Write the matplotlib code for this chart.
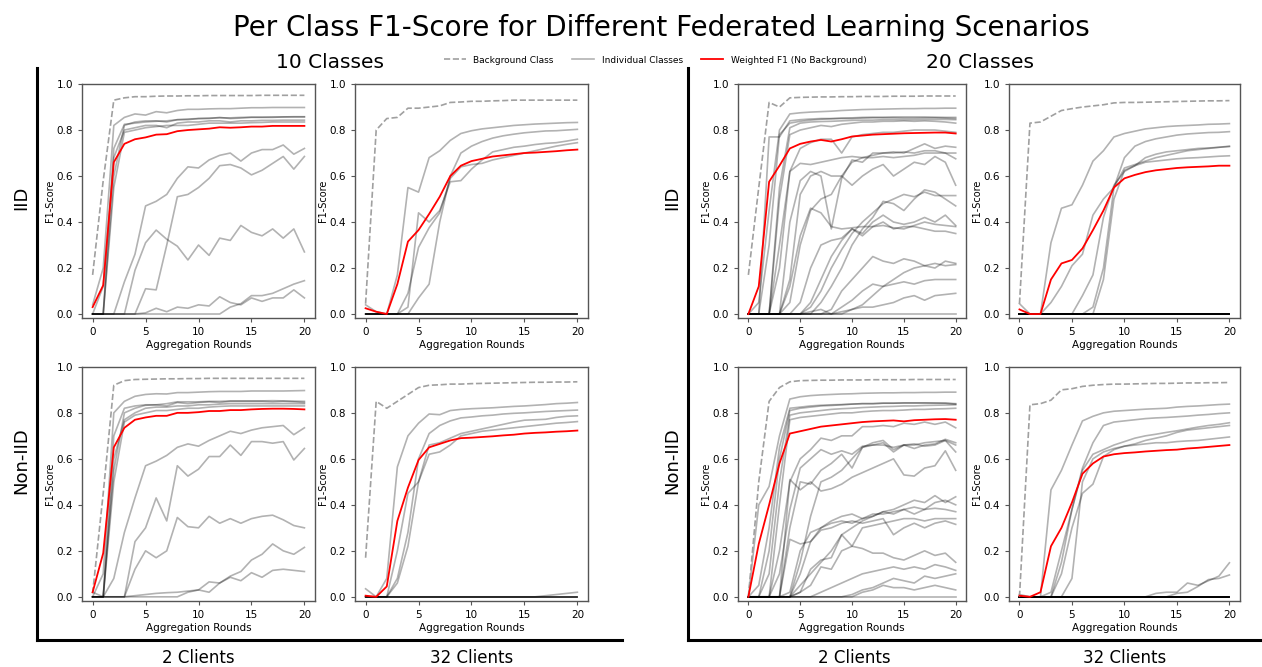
import numpy as np
import matplotlib.pyplot as plt
from matplotlib.lines import Line2D

rounds = list(range(21))
Z = [0.0] * 21

# ---------------- IID, 10 classes, 2 clients ----------------
iid10_c2_bg = [0.17, 0.58, 0.93, 0.94, 0.945, 0.945, 0.947, 0.948, 0.948, 0.949, 0.949,
               0.95, 0.95, 0.95, 0.95, 0.95, 0.951, 0.951, 0.951, 0.951, 0.951]
iid10_c2_f1 = [0.03, 0.125, 0.66, 0.74, 0.76, 0.768, 0.78, 0.782, 0.795, 0.80, 0.803,
               0.806, 0.812, 0.81, 0.812, 0.815, 0.815, 0.818, 0.818, 0.818, 0.818]
iid10_c2_cls = [
    [0.04, 0.2, 0.82, 0.855, 0.87, 0.865, 0.88, 0.875, 0.885, 0.89, 0.89, 0.892, 0.893, 0.893, 0.895, 0.897, 0.897, 0.898, 0.898, 0.898, 0.898],
    [0.0, 0.0, 0.72, 0.825, 0.83, 0.835, 0.838, 0.84, 0.845, 0.848, 0.85, 0.852, 0.853, 0.853, 0.855, 0.856, 0.856, 0.857, 0.857, 0.858, 0.858],
    [0.0, 0.0, 0.6, 0.82, 0.835, 0.84, 0.84, 0.835, 0.845, 0.845, 0.85, 0.85, 0.855, 0.85, 0.852, 0.855, 0.855, 0.855, 0.857, 0.857, 0.857],
    [0.0, 0.12, 0.68, 0.80, 0.81, 0.82, 0.82, 0.81, 0.83, 0.835, 0.835, 0.84, 0.84, 0.835, 0.84, 0.84, 0.842, 0.842, 0.843, 0.843, 0.843],
    [0.0, 0.0, 0.55, 0.79, 0.80, 0.81, 0.815, 0.82, 0.82, 0.82, 0.825, 0.83, 0.83, 0.83, 0.83, 0.832, 0.833, 0.835, 0.835, 0.835, 0.835],
    [0.0, 0.0, 0.0, 0.14, 0.26, 0.47, 0.49, 0.52, 0.59, 0.64, 0.635, 0.67, 0.69, 0.70, 0.665, 0.70, 0.715, 0.715, 0.735, 0.695, 0.72],
    [0.0, 0.0, 0.0, 0.0, 0.0, 0.11, 0.105, 0.30, 0.51, 0.52, 0.55, 0.59, 0.645, 0.65, 0.635, 0.605, 0.625, 0.655, 0.685, 0.63, 0.685],
    [0.0, 0.0, 0.0, 0.0, 0.19, 0.31, 0.365, 0.325, 0.295, 0.235, 0.30, 0.255, 0.33, 0.32, 0.385, 0.355, 0.34, 0.37, 0.33, 0.37, 0.27],
    [0.0, 0.0, 0.0, 0.0, 0.0, 0.0, 0.0, 0.0, 0.0, 0.0, 0.0, 0.0, 0.0, 0.03, 0.045, 0.08, 0.08, 0.09, 0.11, 0.13, 0.145],
    [0.0, 0.0, 0.0, 0.0, 0.0, 0.005, 0.025, 0.01, 0.03, 0.025, 0.04, 0.035, 0.075, 0.05, 0.04, 0.07, 0.055, 0.07, 0.07, 0.105, 0.07],
]

# ---------------- IID, 10 classes, 32 clients ----------------
iid10_c32_bg = [0.045, 0.80, 0.85, 0.855, 0.895, 0.895, 0.90, 0.905, 0.92, 0.922, 0.925,
                0.925, 0.927, 0.928, 0.93, 0.93, 0.93, 0.93, 0.93, 0.93, 0.93]
iid10_c32_f1 = [0.025, 0.01, 0.0, 0.13, 0.315, 0.365, 0.435, 0.51, 0.60, 0.645, 0.665,
                0.675, 0.685, 0.69, 0.695, 0.70, 0.702, 0.705, 0.708, 0.712, 0.715]
iid10_c32_cls = [
    [0.04, 0.01, 0.0, 0.17, 0.55, 0.53, 0.68, 0.71, 0.755, 0.785, 0.797, 0.805, 0.81, 0.815, 0.82, 0.823, 0.826, 0.828, 0.83, 0.832, 0.833],
    [0.0, 0.0, 0.0, 0.0, 0.0, 0.07, 0.13, 0.40, 0.60, 0.70, 0.73, 0.75, 0.765, 0.775, 0.782, 0.788, 0.792, 0.796, 0.797, 0.80, 0.803],
    [0.0, 0.0, 0.0, 0.0, 0.03, 0.44, 0.40, 0.45, 0.575, 0.58, 0.63, 0.67, 0.705, 0.715, 0.725, 0.73, 0.737, 0.742, 0.745, 0.752, 0.76],
    [0.0, 0.0, 0.0, 0.0, 0.09, 0.29, 0.375, 0.44, 0.59, 0.64, 0.65, 0.655, 0.67, 0.68, 0.69, 0.70, 0.71, 0.72, 0.73, 0.738, 0.745],
    Z, Z, Z, Z, Z, Z,
]

# ---------------- IID, 20 classes, 2 clients ----------------
iid20_c2_bg = [0.17, 0.55, 0.92, 0.90, 0.94, 0.942, 0.943, 0.944, 0.944, 0.945, 0.945,
               0.946, 0.946, 0.946, 0.947, 0.947, 0.947, 0.948, 0.948, 0.948, 0.948]
iid20_c2_f1 = [0.0, 0.12, 0.575, 0.645, 0.72, 0.74, 0.75, 0.757, 0.75, 0.76, 0.772,
               0.776, 0.78, 0.782, 0.784, 0.786, 0.787, 0.788, 0.789, 0.789, 0.785]
iid20_c2_cls = [
    [0.0, 0.05, 0.45, 0.80, 0.87, 0.875, 0.878, 0.88, 0.882, 0.885, 0.887, 0.889, 0.89, 0.891, 0.892, 0.893, 0.893, 0.894, 0.894, 0.895, 0.895],
    [0.0, 0.0, 0.77, 0.77, 0.84, 0.845, 0.848, 0.85, 0.85, 0.852, 0.853, 0.855, 0.856, 0.856, 0.857, 0.857, 0.857, 0.857, 0.856, 0.855, 0.855],
    [0.0, 0.0, 0.3, 0.78, 0.83, 0.838, 0.843, 0.847, 0.849, 0.85, 0.85, 0.852, 0.853, 0.853, 0.853, 0.852, 0.852, 0.853, 0.853, 0.852, 0.85],
    [0.0, 0.0, 0.0, 0.55, 0.81, 0.83, 0.835, 0.837, 0.838, 0.84, 0.842, 0.843, 0.843, 0.845, 0.845, 0.845, 0.845, 0.846, 0.846, 0.846, 0.845],
    [0.0, 0.0, 0.0, 0.5, 0.78, 0.80, 0.81, 0.82, 0.815, 0.825, 0.83, 0.835, 0.835, 0.838, 0.838, 0.84, 0.838, 0.84, 0.838, 0.835, 0.83],
    [0.0, 0.0, 0.0, 0.3, 0.62, 0.72, 0.745, 0.76, 0.76, 0.70, 0.77, 0.78, 0.785, 0.79, 0.79, 0.795, 0.80, 0.80, 0.80, 0.795, 0.79],
    [0.0, 0.0, 0.0, 0.2, 0.62, 0.655, 0.65, 0.66, 0.67, 0.68, 0.685, 0.68, 0.68, 0.685, 0.68, 0.685, 0.69, 0.70, 0.70, 0.70, 0.70],
    [0.0, 0.0, 0.0, 0.0, 0.40, 0.58, 0.62, 0.60, 0.37, 0.59, 0.67, 0.66, 0.70, 0.70, 0.705, 0.70, 0.72, 0.74, 0.72, 0.73, 0.725],
    [0.0, 0.0, 0.0, 0.0, 0.15, 0.52, 0.60, 0.62, 0.60, 0.60, 0.56, 0.60, 0.63, 0.65, 0.60, 0.63, 0.66, 0.65, 0.685, 0.66, 0.56],
    [0.0, 0.0, 0.0, 0.0, 0.05, 0.30, 0.45, 0.50, 0.52, 0.60, 0.66, 0.68, 0.69, 0.70, 0.70, 0.705, 0.70, 0.71, 0.71, 0.70, 0.675],
    [0.0, 0.0, 0.0, 0.0, 0.0, 0.0, 0.03, 0.10, 0.20, 0.28, 0.35, 0.40, 0.44, 0.48, 0.50, 0.52, 0.51, 0.53, 0.515, 0.515, 0.515],
    [0.0, 0.0, 0.0, 0.0, 0.0, 0.0, 0.0, 0.05, 0.12, 0.20, 0.30, 0.37, 0.42, 0.49, 0.48, 0.45, 0.50, 0.54, 0.53, 0.50, 0.47],
    [0.0, 0.0, 0.0, 0.0, 0.12, 0.34, 0.46, 0.44, 0.38, 0.37, 0.375, 0.38, 0.38, 0.385, 0.375, 0.37, 0.385, 0.40, 0.39, 0.385, 0.38],
    [0.0, 0.0, 0.0, 0.0, 0.0, 0.05, 0.20, 0.30, 0.32, 0.33, 0.37, 0.35, 0.40, 0.43, 0.40, 0.39, 0.40, 0.42, 0.40, 0.43, 0.385],
    [0.0, 0.0, 0.0, 0.0, 0.0, 0.0, 0.05, 0.15, 0.25, 0.32, 0.37, 0.34, 0.38, 0.40, 0.37, 0.38, 0.38, 0.37, 0.36, 0.36, 0.35],
    [0.0, 0.0, 0.0, 0.0, 0.0, 0.0, 0.0, 0.0, 0.02, 0.10, 0.15, 0.20, 0.25, 0.23, 0.22, 0.24, 0.23, 0.21, 0.20, 0.23, 0.22],
    [0.0, 0.0, 0.0, 0.0, 0.0, 0.0, 0.0, 0.0, 0.0, 0.01, 0.02, 0.04, 0.08, 0.12, 0.15, 0.18, 0.20, 0.21, 0.22, 0.21, 0.215],
    [0.0, 0.0, 0.0, 0.0, 0.0, 0.0, 0.01, 0.02, 0.0, 0.03, 0.06, 0.10, 0.13, 0.12, 0.13, 0.14, 0.13, 0.145, 0.15, 0.15, 0.15],
    [0.0, 0.0, 0.0, 0.0, 0.0, 0.0, 0.0, 0.0, 0.0, 0.0, 0.02, 0.03, 0.03, 0.04, 0.05, 0.07, 0.08, 0.06, 0.08, 0.085, 0.09],
    Z,
]

# ---------------- IID, 20 classes, 32 clients ----------------
iid20_c32_bg = [0.045, 0.83, 0.835, 0.86, 0.885, 0.893, 0.90, 0.905, 0.91, 0.918, 0.92,
                0.92, 0.921, 0.922, 0.923, 0.924, 0.925, 0.926, 0.927, 0.927, 0.928]
iid20_c32_f1 = [0.02, 0.0, 0.0, 0.15, 0.22, 0.235, 0.285, 0.365, 0.45, 0.55, 0.59,
                0.605, 0.617, 0.625, 0.63, 0.635, 0.638, 0.64, 0.642, 0.645, 0.645]
iid20_c32_cls = [
    [0.045, 0.0, 0.0, 0.31, 0.46, 0.475, 0.56, 0.665, 0.71, 0.77, 0.785, 0.795, 0.805, 0.81, 0.815, 0.818, 0.82, 0.822, 0.825, 0.826, 0.828],
    [0.0, 0.0, 0.0, 0.05, 0.12, 0.21, 0.26, 0.43, 0.50, 0.55, 0.68, 0.73, 0.75, 0.762, 0.77, 0.778, 0.783, 0.786, 0.789, 0.79, 0.793],
    [0.0, 0.0, 0.0, 0.0, 0.0, 0.0, 0.0, 0.03, 0.20, 0.55, 0.635, 0.65, 0.665, 0.68, 0.69, 0.70, 0.71, 0.715, 0.72, 0.725, 0.73],
    [0.0, 0.0, 0.0, 0.0, 0.0, 0.0, 0.08, 0.17, 0.42, 0.56, 0.62, 0.645, 0.68, 0.695, 0.705, 0.71, 0.715, 0.72, 0.722, 0.725, 0.728],
    [0.0, 0.0, 0.0, 0.0, 0.0, 0.0, 0.0, 0.0, 0.15, 0.50, 0.625, 0.645, 0.66, 0.665, 0.67, 0.675, 0.678, 0.68, 0.683, 0.686, 0.688],
] + [Z] * 15

# ---------------- Non-IID, 10 classes, 2 clients ----------------
niid10_c2_bg = [0.015, 0.45, 0.92, 0.94, 0.945, 0.946, 0.947, 0.948, 0.948, 0.949, 0.949,
                0.95, 0.95, 0.95, 0.95, 0.95, 0.95, 0.95, 0.95, 0.95, 0.95]
niid10_c2_f1 = [0.02, 0.19, 0.65, 0.735, 0.77, 0.78, 0.787, 0.787, 0.80, 0.80, 0.803,
                0.808, 0.808, 0.812, 0.812, 0.815, 0.817, 0.818, 0.818, 0.817, 0.815]
niid10_c2_cls = [
    [0.0, 0.1, 0.80, 0.85, 0.872, 0.88, 0.883, 0.882, 0.888, 0.888, 0.89, 0.892, 0.893, 0.893, 0.893, 0.895, 0.895, 0.895, 0.895, 0.896, 0.897],
    [0.0, 0.0, 0.70, 0.82, 0.83, 0.835, 0.835, 0.84, 0.848, 0.848, 0.848, 0.85, 0.85, 0.852, 0.852, 0.852, 0.852, 0.853, 0.852, 0.851, 0.85],
    [0.0, 0.0, 0.55, 0.80, 0.82, 0.833, 0.835, 0.83, 0.845, 0.84, 0.845, 0.848, 0.845, 0.85, 0.85, 0.85, 0.85, 0.848, 0.85, 0.848, 0.845],
    [0.0, 0.0, 0.6, 0.77, 0.80, 0.82, 0.825, 0.825, 0.83, 0.83, 0.835, 0.835, 0.838, 0.84, 0.84, 0.84, 0.84, 0.84, 0.84, 0.84, 0.84],
    [0.02, 0.0, 0.5, 0.76, 0.79, 0.80, 0.81, 0.81, 0.815, 0.82, 0.82, 0.825, 0.828, 0.83, 0.83, 0.83, 0.83, 0.83, 0.83, 0.83, 0.83],
    [0.0, 0.0, 0.08, 0.28, 0.43, 0.57, 0.59, 0.615, 0.65, 0.665, 0.655, 0.68, 0.70, 0.72, 0.71, 0.725, 0.735, 0.74, 0.745, 0.705, 0.735],
    [0.0, 0.0, 0.0, 0.0, 0.24, 0.30, 0.43, 0.33, 0.57, 0.525, 0.555, 0.61, 0.61, 0.66, 0.615, 0.675, 0.675, 0.668, 0.675, 0.595, 0.645],
    [0.0, 0.0, 0.0, 0.0, 0.12, 0.20, 0.17, 0.20, 0.345, 0.305, 0.30, 0.35, 0.32, 0.34, 0.32, 0.34, 0.35, 0.355, 0.335, 0.31, 0.30],
    [0.0, 0.0, 0.0, 0.0, 0.0, 0.0, 0.0, 0.0, 0.0, 0.02, 0.03, 0.02, 0.06, 0.09, 0.11, 0.16, 0.185, 0.23, 0.20, 0.185, 0.215],
    [0.0, 0.0, 0.0, 0.0, 0.005, 0.01, 0.015, 0.018, 0.02, 0.025, 0.03, 0.065, 0.06, 0.085, 0.07, 0.105, 0.085, 0.115, 0.12, 0.115, 0.11],
]

# ---------------- Non-IID, 10 classes, 32 clients ----------------
niid10_c32_bg = [0.17, 0.85, 0.82, 0.85, 0.88, 0.91, 0.92, 0.922, 0.925, 0.925, 0.927,
                 0.928, 0.929, 0.93, 0.931, 0.932, 0.933, 0.933, 0.934, 0.934, 0.935]
niid10_c32_f1 = [0.005, 0.0, 0.045, 0.33, 0.475, 0.595, 0.65, 0.665, 0.68, 0.69, 0.692,
                 0.695, 0.698, 0.702, 0.705, 0.71, 0.713, 0.715, 0.718, 0.72, 0.723]
niid10_c32_cls = [
    [0.035, 0.0, 0.08, 0.565, 0.70, 0.755, 0.795, 0.792, 0.81, 0.815, 0.818, 0.82, 0.822, 0.825, 0.828, 0.83, 0.833, 0.836, 0.84, 0.842, 0.845],
    [0.0, 0.0, 0.0, 0.08, 0.28, 0.60, 0.71, 0.745, 0.765, 0.778, 0.782, 0.787, 0.79, 0.795, 0.798, 0.80, 0.803, 0.806, 0.808, 0.81, 0.812],
    [0.0, 0.0, 0.0, 0.06, 0.22, 0.50, 0.66, 0.67, 0.69, 0.71, 0.72, 0.73, 0.74, 0.75, 0.76, 0.768, 0.77, 0.772, 0.78, 0.785, 0.787],
    [0.0, 0.0, 0.0, 0.20, 0.45, 0.50, 0.62, 0.63, 0.66, 0.70, 0.71, 0.72, 0.725, 0.73, 0.735, 0.74, 0.745, 0.75, 0.755, 0.758, 0.762],
    [0.0, 0.0, 0.0, 0.0, 0.0, 0.0, 0.0, 0.0, 0.0, 0.0, 0.0, 0.0, 0.0, 0.0, 0.0, 0.0, 0.0, 0.005, 0.01, 0.015, 0.02],
    Z, Z, Z, Z, Z,
]

# ---------------- Non-IID, 20 classes, 2 clients ----------------
niid20_c2_bg = [0.0, 0.5, 0.85, 0.91, 0.935, 0.94, 0.941, 0.942, 0.942, 0.943, 0.943,
                0.943, 0.944, 0.944, 0.944, 0.944, 0.945, 0.945, 0.945, 0.945, 0.945]
niid20_c2_f1 = [0.0, 0.23, 0.40, 0.58, 0.71, 0.72, 0.73, 0.74, 0.745, 0.75, 0.755,
                0.76, 0.763, 0.765, 0.767, 0.763, 0.768, 0.77, 0.772, 0.773, 0.77]
niid20_c2_cls = [
    [0.0, 0.40, 0.48, 0.70, 0.86, 0.87, 0.875, 0.878, 0.88, 0.882, 0.883, 0.885, 0.886, 0.887, 0.887, 0.888, 0.888, 0.889, 0.889, 0.89, 0.89],
    [0.0, 0.05, 0.3, 0.65, 0.82, 0.825, 0.83, 0.833, 0.835, 0.836, 0.838, 0.84, 0.84, 0.842, 0.842, 0.843, 0.843, 0.843, 0.843, 0.842, 0.84],
    [0.0, 0.0, 0.2, 0.6, 0.81, 0.82, 0.825, 0.83, 0.832, 0.835, 0.838, 0.84, 0.84, 0.842, 0.842, 0.843, 0.843, 0.843, 0.842, 0.842, 0.838],
    [0.0, 0.0, 0.1, 0.5, 0.79, 0.80, 0.805, 0.81, 0.815, 0.818, 0.82, 0.823, 0.825, 0.827, 0.828, 0.83, 0.83, 0.832, 0.833, 0.834, 0.835],
    [0.0, 0.0, 0.0, 0.4, 0.77, 0.78, 0.785, 0.79, 0.795, 0.80, 0.80, 0.805, 0.808, 0.81, 0.81, 0.812, 0.815, 0.815, 0.817, 0.818, 0.82],
    [0.0, 0.0, 0.0, 0.2, 0.50, 0.60, 0.64, 0.69, 0.68, 0.70, 0.70, 0.74, 0.74, 0.745, 0.74, 0.755, 0.75, 0.76, 0.75, 0.76, 0.735],
    [0.0, 0.0, 0.0, 0.1, 0.38, 0.56, 0.60, 0.64, 0.62, 0.635, 0.62, 0.655, 0.66, 0.67, 0.63, 0.66, 0.645, 0.66, 0.665, 0.685, 0.67],
    [0.0, 0.0, 0.0, 0.0, 0.30, 0.50, 0.49, 0.55, 0.58, 0.62, 0.56, 0.65, 0.67, 0.68, 0.64, 0.66, 0.665, 0.655, 0.66, 0.68, 0.63],
    [0.0, 0.0, 0.0, 0.0, 0.0, 0.15, 0.35, 0.50, 0.52, 0.55, 0.60, 0.65, 0.66, 0.66, 0.65, 0.66, 0.66, 0.67, 0.675, 0.68, 0.66],
    [0.0, 0.0, 0.0, 0.0, 0.51, 0.465, 0.50, 0.46, 0.47, 0.49, 0.52, 0.54, 0.56, 0.58, 0.60, 0.53, 0.525, 0.56, 0.57, 0.635, 0.55],
    [0.0, 0.0, 0.0, 0.0, 0.0, 0.05, 0.10, 0.15, 0.20, 0.27, 0.30, 0.33, 0.35, 0.37, 0.38, 0.40, 0.42, 0.41, 0.44, 0.41, 0.435],
    [0.0, 0.0, 0.0, 0.0, 0.02, 0.20, 0.28, 0.30, 0.33, 0.35, 0.36, 0.34, 0.35, 0.37, 0.36, 0.38, 0.39, 0.38, 0.41, 0.42, 0.40],
    [0.0, 0.0, 0.0, 0.0, 0.0, 0.10, 0.24, 0.30, 0.32, 0.33, 0.32, 0.34, 0.36, 0.36, 0.37, 0.38, 0.36, 0.38, 0.385, 0.38, 0.37],
    [0.0, 0.0, 0.0, 0.0, 0.0, 0.02, 0.12, 0.16, 0.17, 0.27, 0.22, 0.30, 0.31, 0.32, 0.33, 0.34, 0.34, 0.33, 0.34, 0.34, 0.34],
    [0.0, 0.0, 0.0, 0.0, 0.25, 0.23, 0.24, 0.29, 0.30, 0.32, 0.33, 0.32, 0.33, 0.34, 0.27, 0.30, 0.32, 0.30, 0.32, 0.33, 0.315],
    [0.0, 0.0, 0.0, 0.0, 0.0, 0.02, 0.05, 0.13, 0.12, 0.20, 0.22, 0.21, 0.19, 0.19, 0.17, 0.16, 0.18, 0.20, 0.18, 0.19, 0.15],
    [0.0, 0.0, 0.0, 0.0, 0.0, 0.0, 0.0, 0.02, 0.04, 0.06, 0.08, 0.10, 0.11, 0.12, 0.13, 0.12, 0.13, 0.12, 0.14, 0.13, 0.115],
    [0.0, 0.0, 0.0, 0.0, 0.0, 0.0, 0.0, 0.0, 0.0, 0.0, 0.01, 0.03, 0.04, 0.06, 0.08, 0.07, 0.06, 0.09, 0.08, 0.09, 0.10],
    [0.0, 0.0, 0.0, 0.0, 0.0, 0.0, 0.0, 0.0, 0.0, 0.0, 0.0, 0.02, 0.03, 0.05, 0.04, 0.04, 0.03, 0.04, 0.05, 0.04, 0.03],
    Z,
]

# ---------------- Non-IID, 20 classes, 32 clients ----------------
niid20_c32_bg = [0.0, 0.835, 0.84, 0.855, 0.90, 0.905, 0.915, 0.92, 0.923, 0.925, 0.925,
                 0.926, 0.927, 0.928, 0.928, 0.929, 0.93, 0.93, 0.931, 0.931, 0.932]
niid20_c32_f1 = [0.005, 0.0, 0.02, 0.22, 0.30, 0.41, 0.535, 0.58, 0.61, 0.62, 0.625,
                 0.628, 0.632, 0.635, 0.638, 0.64, 0.645, 0.648, 0.652, 0.656, 0.66]
niid20_c32_cls = [
    [0.01, 0.0, 0.0, 0.465, 0.55, 0.66, 0.765, 0.785, 0.80, 0.807, 0.81, 0.813, 0.816, 0.818, 0.82, 0.825, 0.828, 0.83, 0.833, 0.836, 0.838],
    [0.0, 0.0, 0.0, 0.0, 0.15, 0.38, 0.56, 0.67, 0.745, 0.76, 0.765, 0.77, 0.775, 0.778, 0.78, 0.783, 0.786, 0.79, 0.793, 0.797, 0.80],
    [0.0, 0.0, 0.0, 0.02, 0.2, 0.38, 0.55, 0.62, 0.64, 0.66, 0.675, 0.69, 0.70, 0.707, 0.715, 0.722, 0.73, 0.738, 0.745, 0.75, 0.757],
    [0.0, 0.0, 0.0, 0.0, 0.10, 0.30, 0.45, 0.49, 0.61, 0.64, 0.655, 0.665, 0.68, 0.69, 0.70, 0.715, 0.725, 0.73, 0.735, 0.74, 0.745],
    [0.0, 0.0, 0.0, 0.0, 0.0, 0.08, 0.50, 0.60, 0.63, 0.645, 0.655, 0.66, 0.665, 0.67, 0.67, 0.675, 0.678, 0.68, 0.685, 0.69, 0.695],
    [0.0, 0.0, 0.0, 0.0, 0.0, 0.0, 0.0, 0.0, 0.0, 0.0, 0.0, 0.0, 0.0, 0.015, 0.02, 0.02, 0.06, 0.05, 0.07, 0.09, 0.148],
    [0.0, 0.0, 0.0, 0.0, 0.0, 0.0, 0.0, 0.0, 0.0, 0.0, 0.0, 0.0, 0.0, 0.0, 0.0, 0.015, 0.02, 0.045, 0.075, 0.08, 0.095],
] + [Z] * 13


def draw_panel(ax, classes, bg, f1):
    for c in classes:
        ax.plot(rounds, c, color="black", alpha=0.3, linewidth=1.2)
    ax.plot(rounds, bg, "--", color="#a0a0a0", linewidth=1.2)
    ax.plot(rounds, f1, color="red", linewidth=1.3)
    ax.set_xlim(-1, 21)
    ax.set_ylim(-0.018, 1.0)
    ax.set_xticks([0, 5, 10, 15, 20])
    ax.set_yticks([0.0, 0.2, 0.4, 0.6, 0.8, 1.0])
    ax.tick_params(labelsize=7.5, length=3, color="#555555")
    ax.set_xlabel("Aggregation Rounds", fontsize=7.5, labelpad=2)
    ax.set_ylabel("F1-Score", fontsize=7, labelpad=1)
    for s in ax.spines.values():
        s.set_color("#555555")
        s.set_linewidth(1.0)


fig = plt.figure(figsize=(12.62, 6.67), dpi=100)

lefts = [0.065, 0.2813, 0.5848, 0.7995]
widths = [0.1846, 0.1846, 0.1807, 0.183]
bottoms = [0.523, 0.099]
height = 0.351

panels = [
    [(iid10_c2_cls, iid10_c2_bg, iid10_c2_f1), (iid10_c32_cls, iid10_c32_bg, iid10_c32_f1),
     (iid20_c2_cls, iid20_c2_bg, iid20_c2_f1), (iid20_c32_cls, iid20_c32_bg, iid20_c32_f1)],
    [(niid10_c2_cls, niid10_c2_bg, niid10_c2_f1), (niid10_c32_cls, niid10_c32_bg, niid10_c32_f1),
     (niid20_c2_cls, niid20_c2_bg, niid20_c2_f1), (niid20_c32_cls, niid20_c32_bg, niid20_c32_f1)],
]

for r in range(2):
    for c in range(4):
        ax = fig.add_axes([lefts[c], bottoms[r], widths[c], height])
        draw_panel(ax, *panels[r][c])

fig.text(0.524, 0.958, "Per Class F1-Score for Different Federated Learning Scenarios",
         ha="center", va="center", fontsize=20)
fig.text(0.2615, 0.907, "10 Classes", ha="center", va="center", fontsize=14.5)
fig.text(0.7765, 0.907, "20 Classes", ha="center", va="center", fontsize=14.5)

for x0 in [0.0166, 0.5325]:
    fig.text(x0, 0.703, "IID", rotation=90, ha="center", va="center", fontsize=13)
    fig.text(x0, 0.31, "Non-IID", rotation=90, ha="center", va="center", fontsize=13)

for x0, lab in zip([0.157, 0.374, 0.677, 0.891], ["2 Clients", "32 Clients", "2 Clients", "32 Clients"]):
    fig.text(x0, 0.013, lab, ha="center", va="center", fontsize=12)

# group brackets
for x0, x1 in [(0.0293, 0.4929), (0.5452, 1.0)]:
    fig.add_artist(Line2D([x0, x0], [0.898, 0.0405], color="black", linewidth=2.2))
    fig.add_artist(Line2D([x0, x1], [0.0405, 0.0405], color="black", linewidth=2.2))

handles = [
    Line2D([], [], linestyle="--", color="#a0a0a0", linewidth=1.2),
    Line2D([], [], color="black", alpha=0.3, linewidth=1.2),
    Line2D([], [], color="red", linewidth=1.3),
]
fig.legend(handles, ["Background Class", "Individual Classes", "Weighted F1 (No Background)"],
           loc="center", bbox_to_anchor=(0.519, 0.91), ncol=3, frameon=False,
           fontsize=6.5, handlelength=2.5, columnspacing=2.0)

fig.savefig("out.png", dpi=100)
